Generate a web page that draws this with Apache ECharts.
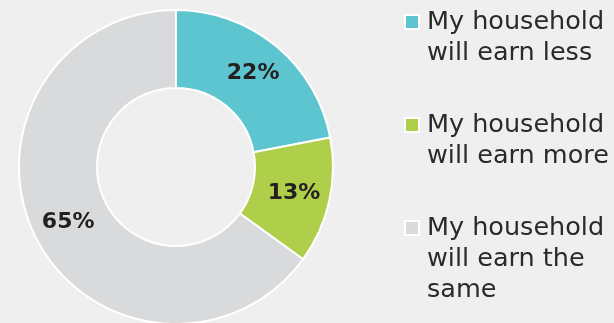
<!DOCTYPE html>
<html>
<head>
<meta charset="utf-8">
<script src="https://cdn.jsdelivr.net/npm/echarts@6/dist/echarts.min.js"></script>
<style>
  html, body { margin: 0; padding: 0; background: #eeefee; }
  #chart { width: 614px; height: 323px; }
</style>
</head>
<body>
<div id="chart"></div>
<script>
// Expected change in household income: share of respondents
const categories = [
  'My household\nwill earn less',
  'My household\nwill earn more',
  'My household\nwill earn the\nsame'
];
const shares = [22, 13, 65];
const sliceColors = ['#5cc5d0', '#afcf4b', '#d9dadc'];

const FONT = '"DejaVu Sans", sans-serif';
const LINE_H = 31;
const legendFirstLineY = [22, 125, 228];

// One legend per entry; blank lines above the name keep the square
// level with the first line of text
function legendFor(i) {
  const lines = categories[i].split('\n').length;
  const boxH = (2 * lines - 1) * LINE_H;
  return {
    orient: 'vertical',
    left: 404,
    top: legendFirstLineY[i] - boxH / 2,
    padding: 0,
    itemWidth: 14,
    itemHeight: 14,
    selectedMode: false,
    icon: 'rect',
    data: [categories[i]],
    formatter: name => '\n'.repeat(lines - 1) + name,
    textStyle: {
      fontFamily: FONT,
      fontSize: 25.5,
      lineHeight: LINE_H,
      color: '#2a2a2a',
      padding: [0, 0, 0, 3]
    }
  };
}

const chart = echarts.init(document.getElementById('chart'), null, { renderer: 'canvas' });
chart.setOption({
  backgroundColor: '#eeefee',
  animation: false,
  color: sliceColors,
  legend: categories.map((_, i) => legendFor(i)),
  series: [{
    type: 'pie',
    center: [176, 167],
    radius: [79, 157],
    startAngle: 90,
    clockwise: true,
    avoidLabelOverlap: false,
    itemStyle: { borderColor: '#ffffff', borderWidth: 2 },
    label: {
      show: true,
      position: 'inside',
      formatter: '{c}%',
      fontFamily: FONT,
      fontWeight: 'bold',
      fontSize: 22,
      color: '#231f20'
    },
    labelLine: { show: false },
    emphasis: { disabled: true },
    data: categories.map((name, i) => ({ name: name, value: shares[i] }))
  }]
});
</script>
</body>
</html>
